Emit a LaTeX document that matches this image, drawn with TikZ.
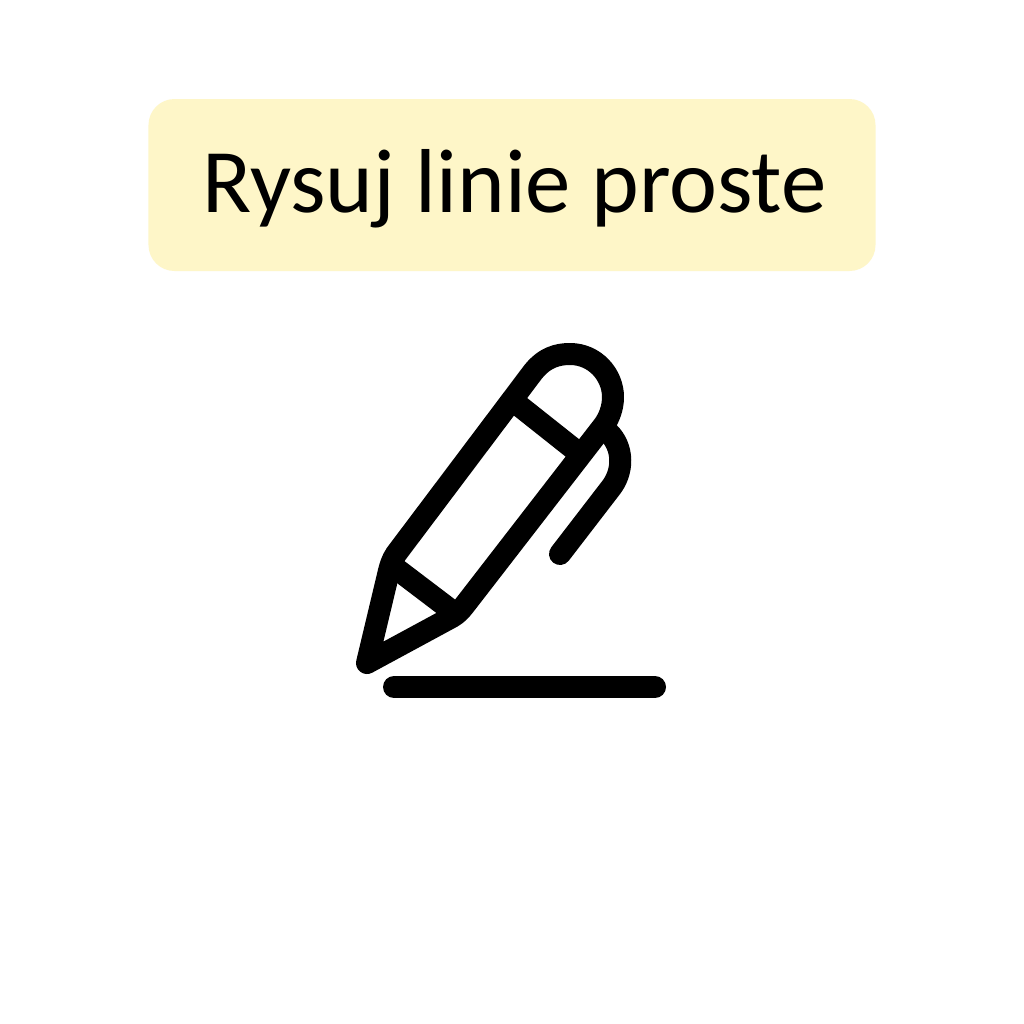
\documentclass[tikz,border=0pt]{standalone}
\usepackage{fontspec}
\setmainfont{Carlito}
\definecolor{labelbg}{HTML}{FEF6C8}
\tikzset{ink/.style={draw=black,line width=22bp,line cap=round,line join=round}}
\begin{document}
\begin{tikzpicture}[x=1bp,y=-1bp]
\useasboundingbox (0,0) rectangle (1024,1024);
\fill[white] (0,0) rectangle (1024,1024);
\node[fill=labelbg,rounded corners=26bp,minimum width=727bp,minimum height=172bp,inner sep=0pt] (title) at (512,185) {};
\node[font=\fontsize{90.8bp}{100bp}\selectfont,inner sep=0pt,anchor=base] (titletext) at (514.5,212) {Rysuj linie proste};
\draw[ink] (367,663) -- (388,575) .. controls (390,566) and (392,560) .. (396,554) -- (533,372) .. controls (545,357) and (558,354) .. (570,354) .. controls (595,354) and (613,375) .. (613,397) .. controls (613,408) and (609,418) .. (604,425) -- (464,606) .. controls (460,611) and (457,614) .. (452,617) -- cycle;
\draw[ink] (517,404) -- (575,450);
\draw[ink] (398,570) -- (452,611);
\draw[ink] (608,432) .. controls (624,447) and (624,472) .. (610,489) -- (560,554);
\draw[ink] (394,687) -- (655,687);
\end{tikzpicture}
\end{document}
